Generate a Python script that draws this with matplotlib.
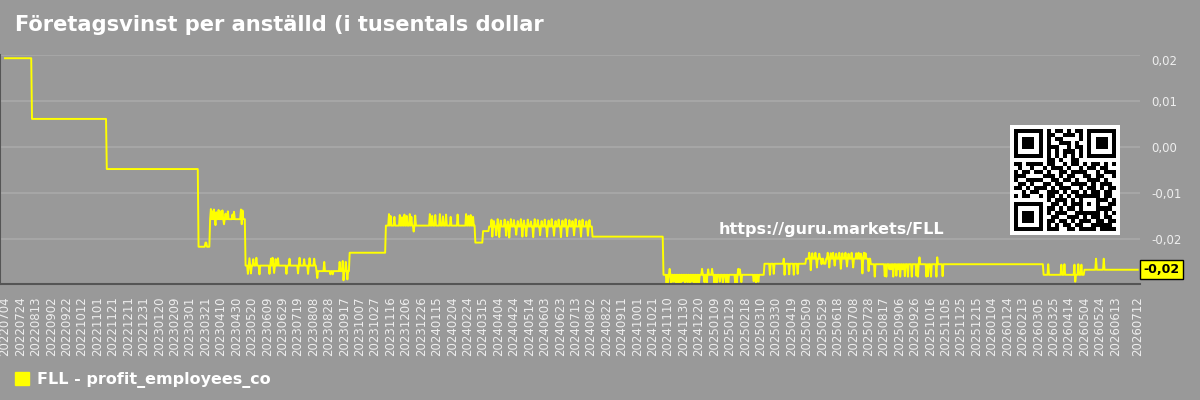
import math
import numpy as np
import pandas as pd
import matplotlib
matplotlib.use("Agg")
import matplotlib.pyplot as plt
from matplotlib.patches import Patch
from matplotlib.ticker import FuncFormatter

# --- data --------------------------------------------------------------
first_date = "2022-07-04"
last_date = "2026-07-12"
last_regular_tick = "2026-06-13"   # ticks every 20 days up to here, then the last date

# level changes (the value holds until the next date)
step_dates = [
    "2022-07-04", "2022-08-08", "2022-11-13", "2023-03-12", "2023-03-27",
    "2023-05-12", "2023-08-12", "2023-09-24", "2023-11-10", "2024-03-05",
    "2024-03-15", "2024-03-23", "2024-08-04", "2024-11-04", "2025-03-15",
    "2025-05-08", "2025-07-31", "2026-03-12", "2026-05-04",
]
step_values = [
    0.0193, 0.0061, -0.0048, -0.0217, -0.0157,
    -0.0258, -0.0270, -0.0230, -0.0171, -0.0208,
    -0.0183, -0.0173, -0.0195, -0.0278, -0.0254,
    -0.0243, -0.0255, -0.0278, -0.0267,
]

# one-day blips on top of the levels
spike_dates = [
    "2023-03-21", "2023-03-22",
    "2023-03-28", "2023-03-30", "2023-04-01", "2023-04-03", "2023-04-04", "2023-04-07",
    "2023-04-10", "2023-04-12", "2023-04-14", "2023-04-16", "2023-04-19", "2023-04-25",
    "2023-04-27", "2023-05-06", "2023-05-07", "2023-05-08",
    "2023-05-15", "2023-05-17", "2023-05-19", "2023-05-22", "2023-05-26", "2023-05-30",
    "2023-06-12", "2023-06-14", "2023-06-16", "2023-06-18", "2023-06-20", "2023-06-23",
    "2023-07-04", "2023-07-08", "2023-07-19", "2023-07-21", "2023-07-27", "2023-08-01",
    "2023-08-03", "2023-08-09",
    "2023-08-13", "2023-08-22", "2023-08-30", "2023-09-02", "2023-09-11", "2023-09-15",
    "2023-09-16", "2023-09-19", "2023-09-21",
    "2023-11-14", "2023-11-16", "2023-11-21", "2023-11-28", "2023-12-01", "2023-12-04",
    "2023-12-07", "2023-12-11", "2023-12-13", "2023-12-16", "2023-12-18", "2024-01-06",
    "2024-01-09", "2024-01-13", "2024-01-19", "2024-01-23", "2024-01-27", "2024-02-02",
    "2024-02-11", "2024-02-22", "2024-02-25", "2024-02-28", "2024-03-02",
    "2024-03-26", "2024-03-27", "2024-03-29", "2024-04-01", "2024-04-03", "2024-04-05",
    "2024-04-07", "2024-04-12", "2024-04-14", "2024-04-16", "2024-04-18", "2024-04-20",
    "2024-04-24", "2024-04-27", "2024-04-29", "2024-05-03", "2024-05-05", "2024-05-07",
    "2024-05-10", "2024-05-12", "2024-05-16", "2024-05-19", "2024-05-21", "2024-05-25",
    "2024-05-28", "2024-05-30", "2024-06-03", "2024-06-06", "2024-06-08", "2024-06-12",
    "2024-06-15", "2024-06-17", "2024-06-21", "2024-06-24", "2024-06-26", "2024-06-30",
    "2024-07-02", "2024-07-05", "2024-07-09", "2024-07-11", "2024-07-13", "2024-07-18",
    "2024-07-20", "2024-07-22", "2024-07-27", "2024-07-29", "2024-07-31",
    "2024-11-08", "2024-11-10", "2024-11-12", "2024-11-14", "2024-11-17", "2024-11-20",
    "2024-11-23", "2024-11-26", "2024-11-29", "2024-12-02", "2024-12-05", "2024-12-08",
    "2024-12-11", "2024-12-14", "2024-12-17", "2024-12-20", "2024-12-24", "2024-12-27",
    "2024-12-30", "2025-01-01", "2025-01-06", "2025-01-09", "2025-01-12", "2025-01-16",
    "2025-01-20", "2025-01-24", "2025-01-27", "2025-02-05", "2025-02-07", "2025-02-09",
    "2025-02-11", "2025-02-13", "2025-03-01", "2025-03-04", "2025-03-07",
    "2025-03-22", "2025-03-27", "2025-04-09", "2025-04-10", "2025-04-16", "2025-04-22",
    "2025-04-27",
    "2025-05-12", "2025-05-14", "2025-05-16", "2025-05-20", "2025-05-22", "2025-05-25",
    "2025-05-28", "2025-05-31", "2025-06-01", "2025-06-02", "2025-06-05", "2025-06-07",
    "2025-06-09", "2025-06-12", "2025-06-14", "2025-06-16", "2025-06-20", "2025-06-22",
    "2025-06-24", "2025-06-28", "2025-06-30", "2025-07-02", "2025-07-06", "2025-07-08",
    "2025-07-12", "2025-07-15", "2025-07-18", "2025-07-20", "2025-07-22", "2025-07-24",
    "2025-07-28",
    "2025-08-05", "2025-08-18", "2025-08-20", "2025-08-24", "2025-08-26", "2025-08-29",
    "2025-09-02", "2025-09-04", "2025-09-07", "2025-09-10", "2025-09-13", "2025-09-17",
    "2025-09-22", "2025-09-28", "2025-09-30", "2025-10-02", "2025-10-11", "2025-10-13",
    "2025-10-17", "2025-10-24", "2025-10-25", "2025-11-01",
    "2026-03-18", "2026-04-04", "2026-04-08", "2026-04-21", "2026-04-22", "2026-04-26",
    "2026-04-30", "2026-05-19", "2026-05-29",
]
spike_values = [
    -0.0208, -0.0208,
    -0.0135, -0.0140, -0.0136, -0.0170, -0.0142, -0.0137,
    -0.0140, -0.0138, -0.0168, -0.0145, -0.0140, -0.0147,
    -0.0141, -0.0136, -0.0168, -0.0138,
    -0.0276, -0.0242, -0.0275, -0.0244, -0.0241, -0.0277,
    -0.0276, -0.0243, -0.0241, -0.0274, -0.0244, -0.0242,
    -0.0276, -0.0243, -0.0275, -0.0241, -0.0244, -0.0276,
    -0.0242, -0.0243,
    -0.0285, -0.0250, -0.0277, -0.0277, -0.0250, -0.0248,
    -0.0290, -0.0250, -0.0288,
    -0.0146, -0.0150, -0.0152, -0.0148, -0.0153, -0.0147,
    -0.0150, -0.0146, -0.0152, -0.0184, -0.0149, -0.0146,
    -0.0150, -0.0148, -0.0146, -0.0151, -0.0147, -0.0152,
    -0.0147, -0.0146, -0.0150, -0.0148, -0.0152,
    -0.0158, -0.0195, -0.0161, -0.0192, -0.0157, -0.0196,
    -0.0160, -0.0158, -0.0193, -0.0162, -0.0197, -0.0157,
    -0.0159, -0.0191, -0.0161, -0.0157, -0.0195, -0.0160,
    -0.0194, -0.0158, -0.0162, -0.0196, -0.0157, -0.0159,
    -0.0192, -0.0161, -0.0158, -0.0195, -0.0160, -0.0157,
    -0.0193, -0.0161, -0.0158, -0.0196, -0.0160, -0.0157,
    -0.0194, -0.0159, -0.0161, -0.0192, -0.0157, -0.0160,
    -0.0195, -0.0158, -0.0162, -0.0193, -0.0159,
    -0.0296, -0.0294, -0.0265, -0.0296, -0.0293, -0.0296,
    -0.0295, -0.0296, -0.0292, -0.0296, -0.0294, -0.0296,
    -0.0293, -0.0296, -0.0295, -0.0296, -0.0265, -0.0294,
    -0.0296, -0.0266, -0.0265, -0.0295, -0.0296, -0.0293,
    -0.0296, -0.0294, -0.0296, -0.0295, -0.0296, -0.0265,
    -0.0266, -0.0294, -0.0292, -0.0296, -0.0293,
    -0.0278, -0.0276, -0.0243, -0.0278, -0.0277, -0.0278,
    -0.0276,
    -0.0230, -0.0268, -0.0231, -0.0230, -0.0262, -0.0232,
    -0.0255, -0.0254, -0.0254, -0.0254, -0.0230, -0.0262,
    -0.0231, -0.0230, -0.0258, -0.0232, -0.0230, -0.0265,
    -0.0231, -0.0230, -0.0260, -0.0232, -0.0230, -0.0262,
    -0.0231, -0.0230, -0.0232, -0.0275, -0.0230, -0.0231,
    -0.0270,
    -0.0282, -0.0281, -0.0282, -0.0266, -0.0266, -0.0282,
    -0.0280, -0.0266, -0.0282, -0.0266, -0.0281, -0.0282,
    -0.0282, -0.0280, -0.0282, -0.0240, -0.0282, -0.0281,
    -0.0282, -0.0282, -0.0240, -0.0281,
    -0.0255, -0.0256, -0.0255, -0.0256, -0.0293, -0.0255,
    -0.0256, -0.0243, -0.0243,
]

# QR code in the corner, 25 x 25 modules ('1' = black)
qr_rows = [
    "1111111" + "0" + "101101011" + "0" + "1111111",
    "1000001" + "0" + "110011101" + "0" + "1000001",
    "1011101" + "0" + "101100001" + "0" + "1011101",
    "1011101" + "0" + "100111010" + "0" + "1011101",
    "1011101" + "0" + "111001011" + "0" + "1011101",
    "1000001" + "0" + "101011101" + "0" + "1000001",
    "1111111" + "0" + "101010101" + "0" + "1111111",
    "00000000" + "110100110" + "00000000",
    "110111" + "1" + "0" + "110010110" + "1" + "0110101",
    "010010" + "0" + "1" + "011101001" + "0" + "1101100",
    "101101" + "1" + "0" + "100110111" + "1" + "0010111",
    "111000" + "0" + "1" + "110101100" + "1" + "1011001",
    "100111" + "1" + "0" + "011011010" + "0" + "1110100",
    "011010" + "0" + "1" + "101100111" + "1" + "0101110",
    "110101" + "1" + "1" + "010111001" + "0" + "1101011",
    "001011" + "0" + "0" + "111010110" + "1" + "0110110",
    "101100" + "1" + "0" + "11010101" + "11111" + "0110",
    "00000000" + "10111010" + "10001" + "1101",
    "1111111" + "0" + "01101011" + "10101" + "0011",
    "1000001" + "0" + "11010110" + "10001" + "1110",
    "1011101" + "0" + "10111001" + "11111" + "0101",
    "1011101" + "0" + "01100111" + "010110110",
    "1011101" + "0" + "11011010" + "111011011",
    "1000001" + "0" + "10101101" + "100111110",
    "1111111" + "0" + "11100110" + "111101111",
]

title = "Företagsvinst per anställd (i tusentals dollar"
series_label = "FLL - profit_employees_co"
watermark = "https://guru.markets/FLL"

# --- build the daily series ----------------------------------------------
days = pd.date_range(first_date, last_date, freq="D")
levels = pd.Series(step_values, index=pd.to_datetime(step_dates))
series = levels.reindex(days, method="ffill")
spikes = pd.Series(spike_values, index=pd.to_datetime(spike_dates))
series.loc[spikes.index] = spikes.values

tick_dates = list(pd.date_range(first_date, last_regular_tick, freq="20D")) + [pd.Timestamp(last_date)]


def sv_num(v):
    # two decimals, decimal comma, cut (not rounded) like the source's tag
    v = math.trunc(round(v * 100, 6)) / 100
    return f"{v:.2f}".replace(".", ",")


BG = "#999999"
GRID = "#a6a6a6"
TXT = "#eeeeee"
LINE = "#ffff00"

fig = plt.figure(figsize=(12, 4), dpi=100, facecolor=BG)
ax = fig.add_axes([0.0, 0.29, 0.95, 0.5725], facecolor=BG)

ax.plot(series.index, series.values, color=LINE, linewidth=1.4)

ax.set_xlim(pd.Timestamp(first_date) - pd.Timedelta(days=6.5),
            pd.Timestamp(last_date) + pd.Timedelta(days=3))
ax.set_ylim(-0.0298, 0.0200)

ax.set_yticks([-0.02, -0.01, 0.0, 0.01, 0.02])
ax.yaxis.set_major_formatter(FuncFormatter(lambda v, p: f"{v:.2f}".replace(".", ",")))
ax.yaxis.tick_right()
ax.tick_params(axis="y", length=0, pad=8, labelsize=8.5, labelcolor=TXT)
ax.grid(axis="y", color=GRID, linewidth=1.5)
ax.set_axisbelow(True)

ax.set_xticks(tick_dates)
ax.set_xticklabels([d.strftime("%Y%m%d") for d in tick_dates])
ax.tick_params(axis="x", length=0, pad=9, labelsize=8.5, labelcolor=TXT, labelrotation=90)

for side in ("top", "right"):
    ax.spines[side].set_visible(False)
for side in ("left", "bottom"):
    ax.spines[side].set_color("#555555")
    ax.spines[side].set_linewidth(1.5)

# top tick label sits below its gridline
fig.canvas.draw()
ax.get_yticklabels()[-1].set_verticalalignment("top")

# last value tag
last_val = series.values[-1]
ax.annotate(sv_num(last_val), xy=(1.003, last_val),
            xycoords=("axes fraction", "data"), ha="left", va="center",
            fontsize=9, fontweight="bold", color="black",
            bbox=dict(boxstyle="square,pad=0.25", facecolor=LINE, edgecolor="black", linewidth=1))

ax.text(0.63, 0.236, watermark, transform=ax.transAxes, ha="left", va="center",
        fontsize=11.5, fontweight="bold", color="white")

fig.text(0.0125, 0.9375, title, ha="left", va="center",
         fontsize=15.1, fontweight="bold", color="white")

fig.legend(handles=[Patch(facecolor=LINE, edgecolor=LINE)], labels=[series_label],
           loc="center left", bbox_to_anchor=(0.0005, 0.05), frameon=False,
           handlelength=0.9, handleheight=0.9, handletextpad=0.45,
           prop=dict(weight="bold", size=11.5), labelcolor="white")

# QR code
qr = np.array([[int(c) for c in row] for row in qr_rows])
assert qr.shape == (25, 25), qr.shape
qr = np.pad(qr, 1)
qax = fig.add_axes([1010 / 1200, 1 - 235 / 400, 110 / 1200, 110 / 400])
qax.imshow(1 - qr, cmap="gray", vmin=0, vmax=1, interpolation="nearest")
qax.axis("off")

fig.savefig("out.png", dpi=100, facecolor=BG)
